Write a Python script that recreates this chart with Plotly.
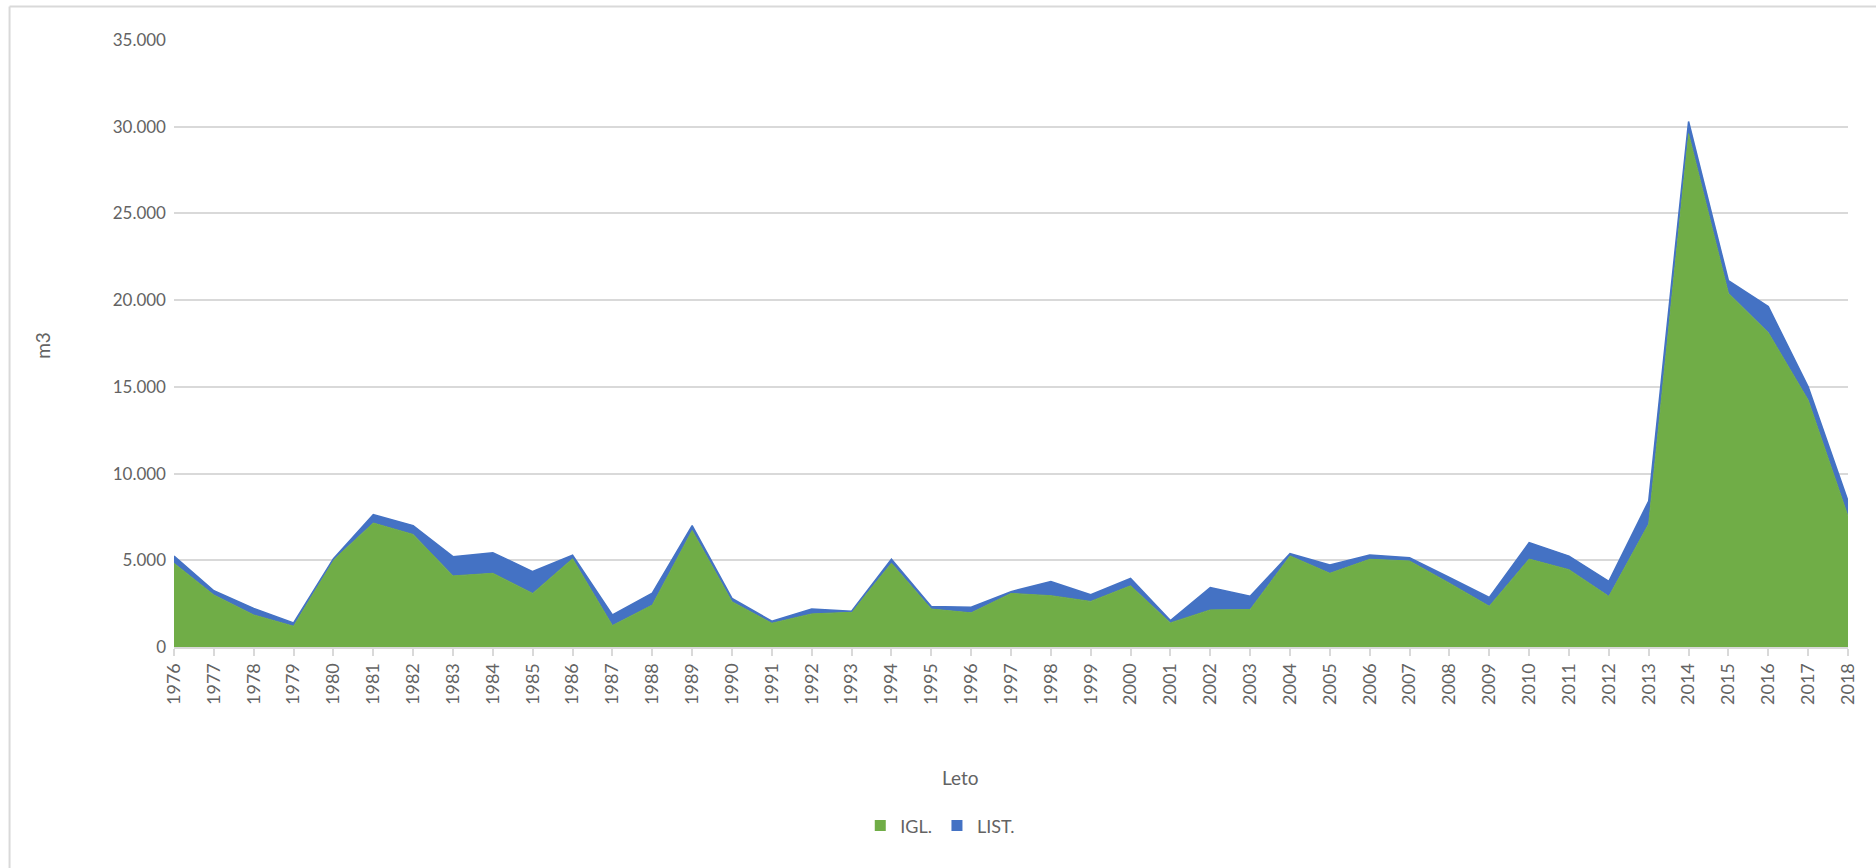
import plotly.graph_objects as go

# Annual volumes (m3) by wood type
years = list(range(1976, 2019))
igl = [4830, 3000, 1850, 1200, 5020, 7150, 6490, 4100, 4250, 3090,
       5090, 1240, 2420, 6720, 2610, 1370, 1910, 2000, 4830, 2190,
       1970, 3090, 2960, 2630, 3530, 1390, 2140, 2160, 5250, 4250,
       5060, 4960, 3680, 2350, 5070, 4460, 2920, 7100, 29600, 20400,
       18130, 14240, 7540]
total = [5250, 3240, 2230, 1390, 5090, 7630, 7000, 5210, 5440, 4350,
         5290, 1850, 3110, 7000, 2800, 1490, 2190, 2060, 5060, 2330,
         2290, 3190, 3780, 3010, 3950, 1530, 3430, 2930, 5380, 4730,
         5300, 5150, 4010, 2860, 6020, 5240, 3790, 8420, 30300, 21120,
         19630, 15010, 8420]
list_ = [t - g for t, g in zip(total, igl)]

GREEN = "#70ad47"
BLUE = "#4472c4"
GRID = "#d9d9d9"
TEXT = "#636363"
FONT = "Liberation Sans Narrow, Lato, sans-serif"

W, H = 1876, 868
L, R, T, B = 173.5, 28, 39.5, 221
pw, ph = W - L - R, H - T - B


def px_x(px):
    return (px - L) / pw


def px_y(py):
    return (H - B - py) / ph


fig = go.Figure()
fig.add_trace(go.Scatter(
    x=years, y=igl, name="IGL.", stackgroup="one", mode="lines",
    line=dict(color=GREEN, width=1), fillcolor=GREEN, showlegend=False,
))
fig.add_trace(go.Scatter(
    x=years, y=list_, name="LIST.", stackgroup="one", mode="lines",
    line=dict(color=BLUE, width=1.5), fillcolor=BLUE, showlegend=False,
))
# square legend keys
for name, col in (("IGL.", GREEN), ("LIST.", BLUE)):
    fig.add_trace(go.Scatter(
        x=[None], y=[None], mode="markers", name=name,
        marker=dict(symbol="square", size=11, color=col),
    ))

fig.update_layout(
    width=W, height=H,
    margin=dict(l=L, r=R, t=T, b=B, autoexpand=False),
    paper_bgcolor="white", plot_bgcolor="white",
    separators=",.",
    font=dict(family=FONT, color=TEXT, size=18),
    showlegend=True,
    legend=dict(
        orientation="h", x=px_x(940), y=px_y(826),
        xanchor="center", yanchor="middle",
        font=dict(size=18, color=TEXT), traceorder="normal",
        itemwidth=30, tracegroupgap=0,
    ),
    xaxis=dict(
        range=[1976, 2018], tickmode="array", tickvals=years,
        ticktext=[str(y) for y in years], tickangle=-90,
        showgrid=False, zeroline=False,
        showline=True, linecolor=GRID, linewidth=2,
        ticks="outside", ticklen=7, tickcolor=GRID, tickwidth=1.5,
        tickfont=dict(size=18, color=TEXT, family=FONT),
    ),
    yaxis=dict(
        range=[0, 35000], tickmode="linear", tick0=0, dtick=5000,
        tickformat=",d", showgrid=True, gridcolor=GRID, gridwidth=1.5,
        zeroline=False, showline=False, ticks="",
        ticklabelstandoff=7,
        tickfont=dict(size=17, color=TEXT, family=FONT),
    ),
    annotations=[
        dict(text="m3", x=px_x(42), y=px_y(345), xref="paper", yref="paper",
             xanchor="center", yanchor="middle",
             showarrow=False, textangle=-90, font=dict(size=19, color=TEXT)),
        dict(text="Leto", x=px_x(960), y=px_y(778), xref="paper", yref="paper",
             xanchor="center", yanchor="middle",
             showarrow=False, font=dict(size=19, color=TEXT)),
    ],
    shapes=[
        dict(type="line", xref="paper", yref="paper",
             x0=px_x(9), x1=px_x(9), y0=px_y(6), y1=px_y(880),
             line=dict(color=GRID, width=2)),
        dict(type="line", xref="paper", yref="paper",
             x0=px_x(9), x1=px_x(1890), y0=px_y(6), y1=px_y(6),
             line=dict(color=GRID, width=2)),
    ],
)

fig.write_html("out.html")
